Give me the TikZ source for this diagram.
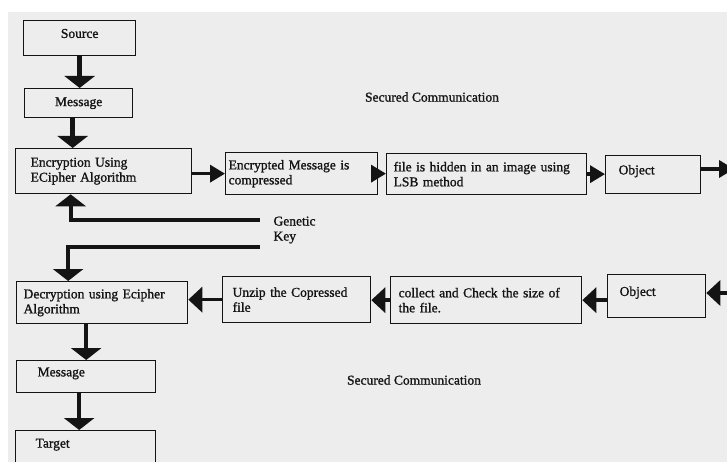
\documentclass[tikz,border=0pt]{standalone}
\usepackage{fontspec}
\setmainfont{Liberation Serif}
\newfontfamily\boxfont{Liberation Serif}[FakeBold=1.2]
\usetikzlibrary{arrows.meta}
\definecolor{paper}{HTML}{EDEDED}
\definecolor{ink}{HTML}{141414}

\begin{document}
\begin{tikzpicture}[line join=miter,x=1pt,y=-1pt,
    box/.style={draw=ink,line width=1.3pt,anchor=north west,align=left,inner ysep=2pt,text=ink,font=\boxfont\fontsize{13.5pt}{15pt}\selectfont},
    raised/.style={text height=9.5pt,text depth=10pt},
    vflow/.style={draw=ink,line width=4.5pt,-{Triangle[width=30pt,length=12pt]}},
    hflow/.style={draw=ink,line width=3.5pt,-{Triangle[width=17pt,length=15pt]}},
    hflowb/.style={draw=ink,line width=3.5pt,-{Triangle[width=25pt,length=14pt]}},
    caption/.style={text=ink,font=\boxfont\fontsize{13.5pt}{15pt}\selectfont}]
    \useasboundingbox (0,0) rectangle (727,462);
    \clip (0,0) rectangle (727,462);
    \fill[white] (0,0) rectangle (727,462);
    \fill[paper] (8,12) rectangle (727,462);
    % sending side
    \node[box,raised,align=center,minimum height=35pt,text width=104pt,inner xsep=4pt] (src) at (23,20) {Source};
    \node[box,align=center,minimum height=29pt,text width=100pt,inner xsep=4pt] (msg) at (24,88) {Message};
    \node[box,minimum height=45pt,text width=146pt,inner xsep=15pt] (enc) at (15,148) {Encryption Using\\ECipher Algorithm};
    \node[box,minimum height=42pt,text width=146pt,inner xsep=3pt] (cmp) at (225,152) {Encrypted Message is\\compressed};
    \node[box,minimum height=41pt,text width=186pt,inner xsep=7pt] (hide) at (386,153) {file is hidden in an image using\\LSB method};
    \node[box,raised,minimum height=38pt,text width=69pt,inner xsep=13pt] (obj) at (605,155) {Object};
    \node[caption] (secA) at (432,97) {Secured Communication};
    % key
    \node[caption,anchor=west,align=left] (gkey) at (270,230) {Genetic\\Key};
    \coordinate (gkin) at (260,220);
    \coordinate (gkout) at (260,247);
    % receiving side
    \node[box,minimum height=42pt,text width=157pt,inner xsep=7pt] (dec) at (16,281) {Decryption using Ecipher\\Algorithm};
    \node[box,minimum height=46pt,text width=128pt,inner xsep=10pt] (unz) at (222,276) {Unzip the Copressed\\file};
    \node[box,minimum height=47pt,text width=175pt,inner xsep=8pt] (chk) at (390,276) {collect and Check the size of\\the file.};
    \node[box,raised,minimum height=43pt,text width=74pt,inner xsep=12pt] (objb) at (607,274) {Object};
    \node[box,raised,minimum height=32pt,text width=97pt,inner xsep=21pt] (msgb) at (16,360) {Message};
    \node[box,text height=13pt,text depth=32pt,inner ysep=4pt,text width=100pt,inner xsep=20pt] (tgt) at (15,430) {Target};
    \node[caption] (secB) at (414,380) {Secured Communication};
    \coordinate (outa) at (734,169);
    \coordinate (inb) at (730,293);
    % connectors
    \draw[vflow] (src.south) -- (src.south |- msg.north);
    \draw[vflow] ([xshift=-6pt]msg.south) -- ([xshift=-6pt]msg.south |- enc.north);
    \draw[hflow] (enc.east |- cmp.west) -- (cmp.west);
    \draw[hflow] (cmp.east) -- (cmp.east -| hide.west);
    \draw[hflow] (hide.east) -- (hide.east -| obj.west);
    \draw[hflow] (obj.east |- outa) -- (outa);
    \draw[vflow,line width=4pt] (gkin) -| ([xshift=-33pt]enc.south);
    \draw[vflow,line width=4pt] (gkout) -| ([xshift=-34pt]dec.north);
    \draw[hflowb] (inb) -- (inb -| objb.east);
    \draw[hflowb] (objb.west |- chk.east) -- (chk.east);
    \draw[hflowb] (chk.west) -- (chk.west -| unz.east);
    \draw[hflowb] (unz.west) -- (unz.west -| dec.east);
    \draw[vflow] (msgb.north |- dec.south) -- (msgb.north);
    \draw[vflow] ([xshift=-7pt]msgb.south) -- ([xshift=-7pt]msgb.south |- tgt.north);
\end{tikzpicture}
\end{document}
